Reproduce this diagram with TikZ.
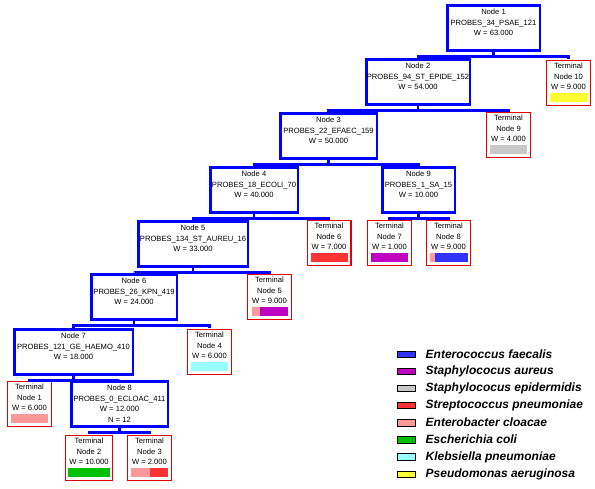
\documentclass[tikz,border=0pt]{standalone}
\usepackage{fontspec}
\setmainfont{Liberation Sans}
\usepackage{xcolor}
\usepackage{tikz}
\usetikzlibrary{positioning}

\definecolor{nodeblue}{RGB}{0,0,255}
\definecolor{termred}{RGB}{228,0,0}
\definecolor{efaecalis}{RGB}{51,51,255}
\definecolor{saureus}{RGB}{192,0,192}
\definecolor{sepidermidis}{RGB}{200,200,200}
\definecolor{spneumoniae}{RGB}{255,51,51}
\definecolor{ecloacae}{RGB}{255,153,153}
\definecolor{ecoli}{RGB}{0,192,0}
\definecolor{kpneumoniae}{RGB}{153,255,255}
\definecolor{paeruginosa}{RGB}{255,255,51}

\newcommand{\nodepad}[1][10.9pt]{\rule[-#1]{0pt}{0pt}}
\newcommand{\termbar}[2]{{\color{#1}\rule{#2}{9pt}}}

\begin{document}
\begin{tikzpicture}[x=1pt, y=-1pt,
  splitbox/.style={draw=nodeblue, line width=2.5pt, align=center, anchor=north,
    inner xsep=0pt, inner ysep=3.9pt, font=\fontsize{7.6}{10.4}\selectfont},
  termbox/.style={draw=termred, line width=1.2pt, align=center, anchor=north,
    minimum width=43.8pt, inner xsep=0pt, inner ysep=3pt,
    font=\fontsize{7.6}{10.4}\selectfont},
  link/.style={draw=nodeblue, line width=2.8pt, shorten >=0.5pt},
  swatch/.style={draw=black, line width=0.6pt, minimum width=18.4pt,
    minimum height=6.4pt, inner sep=0pt},
  legtext/.style={inner xsep=0pt, font=\fontsize{12}{13}\selectfont\bfseries\itshape}]
  \useasboundingbox (0,0) rectangle (595,488);

  % split nodes
  \node[splitbox, minimum width=92.5pt] (n1) at (493.5,4.25) {Node 1\\PROBES\_34\_PSAE\_121\\W = 63.000\nodepad};
  \node[splitbox, minimum width=103.5pt] (n2) at (418,58.25) {Node 2\\PROBES\_94\_ST\_EPIDE\_152\\W = 54.000\nodepad};
  \node[splitbox, minimum width=96.5pt] (n3) at (328.5,112.25) {Node 3\\PROBES\_22\_EFAEC\_159\\W = 50.000\nodepad};
  \node[splitbox, minimum width=87.5pt] (n4) at (254,166.25) {Node 4\\PROBES\_18\_ECOLI\_70\\W = 40.000\nodepad};
  \node[splitbox, minimum width=72.5pt] (n9) at (418.5,166.25) {Node 9\\PROBES\_1\_SA\_15\\W = 10.000\nodepad};
  \node[splitbox, minimum width=109.5pt] (n5) at (193,220.25) {Node 5\\PROBES\_134\_ST\_AUREU\_16\\W = 33.000\nodepad};
  \node[splitbox, minimum width=85.5pt] (n6) at (134,273.25) {Node 6\\PROBES\_26\_KPN\_419\\W = 24.000\nodepad};
  \node[splitbox, minimum width=118.5pt] (n7) at (73.5,328.25) {Node 7\\PROBES\_121\_GE\_HAEMO\_410\\W = 18.000\nodepad};
  \node[splitbox, minimum width=96.5pt] (n8) at (119.5,380.25) {Node 8\\PROBES\_0\_ECLOAC\_411\\W = 12.000\\N = 12\nodepad[0.5pt]};

  % terminal nodes
  \node[termbox] (t10) at (568.5,59.6) {Terminal\\Node 10\\W = 9.000\\[2pt]\termbar{paeruginosa}{38pt}\nodepad[0.4pt]};
  \node[termbox] (t9) at (508.5,111.6) {Terminal\\Node 9\\W = 4.000\\[2pt]\termbar{sepidermidis}{37pt}\nodepad[0.4pt]};
  \node[termbox] (t6) at (329,219.6) {Terminal\\Node 6\\W = 7.000\\[2pt]\termbar{spneumoniae}{37pt}\nodepad[0.4pt]};
  \node[termbox] (t7) at (389.5,219.6) {Terminal\\Node 7\\W = 1.000\\[2pt]\termbar{saureus}{37pt}\nodepad[0.4pt]};
  \node[termbox] (t8) at (448.5,219.6) {Terminal\\Node 8\\W = 9.000\\[2pt]\termbar{ecloacae}{5pt}\termbar{efaecalis}{33pt}\nodepad[0.4pt]};
  \node[termbox] (t5) at (269.5,273.6) {Terminal\\Node 5\\W = 9.000\\[2pt]\termbar{ecloacae}{8pt}\termbar{saureus}{28pt}\nodepad[0.4pt]};
  \node[termbox] (t4) at (209.5,328.6) {Terminal\\Node 4\\W = 6.000\\[2pt]\termbar{kpneumoniae}{37pt}\nodepad[0.4pt]};
  \node[termbox] (t1) at (29.5,380.6) {Terminal\\Node 1\\W = 6.000\\[2pt]\termbar{ecloacae}{38pt}\nodepad[0.4pt]};
  \node[termbox, minimum width=46.8pt] (t2) at (89,434.6) {Terminal\\Node 2\\W = 10.000\\[2pt]\termbar{ecoli}{42pt}\nodepad[0.4pt]};
  \node[termbox] (t3) at (149.5,434.6) {Terminal\\Node 3\\W = 2.000\\[2pt]\termbar{ecloacae}{19pt}\termbar{spneumoniae}{18pt}\nodepad[0.4pt]};

  % splits
  \draw[link] (n1.south) -- ++(0,5) -| (n2.north);
  \draw[link] (n1.south) -- ++(0,5) -| (t10.north);
  \draw[link] (n2.south) -- ++(0,5) -| (n3.north);
  \draw[link] (n2.south) -- ++(0,5) -| (t9.north);
  \draw[link] (n3.south) -- ++(0,5) -| (n4.north);
  \draw[link] (n3.south) -- ++(0,5) -| (n9.north);
  \draw[link] (n4.south) -- ++(0,5) -| (n5.north);
  \draw[link] (n4.south) -- ++(0,5) -| (t6.north);
  \draw[link] (n9.south) -- ++(0,5) -| (t7.north);
  \draw[link] (n9.south) -- ++(0,5) -| (t8.north);
  \draw[link] (n5.south) -- ++(0,5) -| (n6.north);
  \draw[link] (n5.south) -- ++(0,5) -| (t5.north);
  \draw[link] (n6.south) -- ++(0,5) -| (n7.north);
  \draw[link] (n6.south) -- ++(0,5) -| (t4.north);
  \draw[link] (n7.south) -- ++(0,5) -| (t1.north);
  \draw[link] (n7.south) -- ++(0,5) -| (n8.north);
  \draw[link] (n8.south) -- ++(0,5) -| (t2.north);
  \draw[link] (n8.south) -- ++(0,5) -| (t3.north);

  % legend
  \node[swatch, fill=efaecalis] (sw1) at (406.5,354) {};
  \node[swatch, fill=saureus] (sw2) at (406.5,371.1) {};
  \node[swatch, fill=sepidermidis] (sw3) at (406.5,388.3) {};
  \node[swatch, fill=spneumoniae] (sw4) at (406.5,405.4) {};
  \node[swatch, fill=ecloacae] (sw5) at (406.5,422.6) {};
  \node[swatch, fill=ecoli] (sw6) at (406.5,439.7) {};
  \node[swatch, fill=kpneumoniae] (sw7) at (406.5,456.9) {};
  \node[swatch, fill=paeruginosa] (sw8) at (406.5,474) {};
  \node[legtext, right=9.5pt of sw1] (lt1) {Enterococcus faecalis};
  \node[legtext, right=9.5pt of sw2] (lt2) {Staphylococus aureus};
  \node[legtext, right=9.5pt of sw3] (lt3) {Staphylococus epidermidis};
  \node[legtext, right=9.5pt of sw4] (lt4) {Streptococcus pneumoniae};
  \node[legtext, right=9.5pt of sw5] (lt5) {Enterobacter cloacae};
  \node[legtext, right=9.5pt of sw6] (lt6) {Escherichia coli};
  \node[legtext, right=9.5pt of sw7] (lt7) {Klebsiella pneumoniae};
  \node[legtext, right=9.5pt of sw8] (lt8) {Pseudomonas aeruginosa};
\end{tikzpicture}
\end{document}
